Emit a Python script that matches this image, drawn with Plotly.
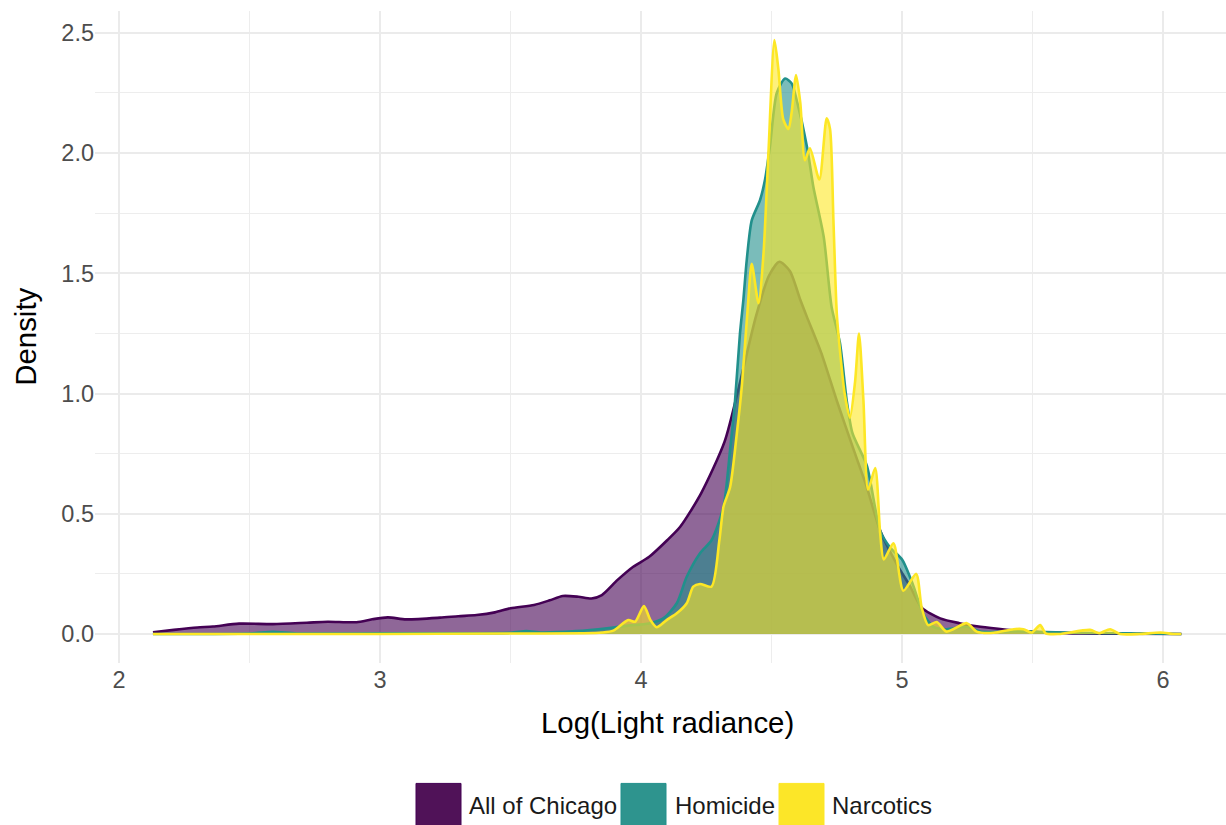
import plotly.graph_objects as go

# ---------------- data ----------------
chicago_x = [2.13, 2.21, 2.30, 2.36, 2.46, 2.59, 2.72, 2.80, 2.91, 2.97, 3.03, 3.10,
             3.23, 3.30, 3.37, 3.44, 3.50, 3.59, 3.65, 3.70, 3.76, 3.81, 3.85, 3.91,
             3.97, 4.03, 4.10, 4.15, 4.23, 4.32, 4.38, 4.44, 4.49, 4.53, 4.57, 4.61,
             4.635, 4.69, 4.75, 4.81, 4.865, 4.916, 4.98, 5.03, 5.075, 5.146, 5.22,
             5.30, 5.40, 5.49, 5.60, 5.68, 5.85, 6.07]
chicago_y = [0.007, 0.017, 0.027, 0.031, 0.043, 0.041, 0.047, 0.051, 0.049, 0.061, 0.069, 0.061,
             0.068, 0.074, 0.079, 0.090, 0.107, 0.121, 0.140, 0.158, 0.155, 0.148, 0.162, 0.225,
             0.280, 0.320, 0.390, 0.446, 0.585, 0.800, 1.050, 1.320, 1.490, 1.548, 1.510, 1.390,
             1.320, 1.170, 0.970, 0.780, 0.610, 0.430, 0.290, 0.200, 0.110, 0.065, 0.045,
             0.030, 0.018, 0.010, 0.005, 0.002, 0.001, 0.0]

homicide_x = [2.13, 2.50, 2.59, 2.68, 3.00, 3.50, 3.56, 3.62, 3.75, 3.87, 3.95, 4.03,
              4.085, 4.137, 4.175, 4.226, 4.27, 4.316, 4.341, 4.36, 4.379, 4.392, 4.405,
              4.424, 4.456, 4.475, 4.494, 4.52, 4.552, 4.577, 4.603, 4.62, 4.64, 4.66,
              4.70, 4.73, 4.762, 4.788, 4.81, 4.865, 4.916, 4.954, 5.00, 5.04, 5.08,
              5.12, 5.17, 5.25, 5.30, 5.45, 5.55, 5.70, 5.85, 6.07]
homicide_y = [0.0, 0.002, 0.009, 0.002, 0.003, 0.005, 0.012, 0.006, 0.012, 0.024, 0.035, 0.044,
              0.065, 0.128, 0.238, 0.336, 0.390, 0.530, 0.765, 0.970, 1.250, 1.390, 1.556,
              1.720, 1.805, 1.890, 2.030, 2.250, 2.310, 2.290, 2.190, 2.110, 2.000, 1.860,
              1.650, 1.360, 1.210, 0.970, 0.835, 0.700, 0.430, 0.360, 0.310, 0.210, 0.086,
              0.030, 0.020, 0.030, 0.010, 0.012, 0.008, 0.004, 0.003, 0.0]

narcotics_x = [2.13, 3.00, 3.50, 3.78, 3.85, 3.894, 3.951, 3.977, 4.011, 4.035, 4.06, 4.098,
               4.137, 4.175, 4.20, 4.226, 4.27, 4.30, 4.316, 4.341, 4.367, 4.386, 4.41,
               4.424, 4.45, 4.469, 4.488, 4.511, 4.526, 4.545, 4.565, 4.577, 4.594, 4.61,
               4.628, 4.647, 4.683, 4.711, 4.724, 4.737, 4.75, 4.762, 4.78, 4.80, 4.82,
               4.835, 4.852, 4.87, 4.897, 4.916, 4.93, 4.967, 5.005, 5.054, 5.075, 5.10,
               5.133, 5.17, 5.248, 5.286, 5.35, 5.427, 5.465, 5.497, 5.529, 5.55, 5.60,
               5.72, 5.755, 5.797, 5.835, 5.91, 5.99, 6.04, 6.07]
narcotics_y = [0.0, 0.0, 0.002, 0.003, 0.006, 0.014, 0.058, 0.051, 0.116, 0.060, 0.028, 0.058,
               0.086, 0.128, 0.197, 0.208, 0.197, 0.390, 0.530, 0.610, 0.835, 1.030, 1.376,
               1.540, 1.376, 1.580, 2.000, 2.470, 2.350, 2.140, 2.100, 2.170, 2.325, 2.210,
               1.970, 2.020, 1.890, 2.145, 2.100, 1.720, 1.330, 1.180, 1.000, 0.900, 1.050,
               1.250, 0.970, 0.600, 0.690, 0.420, 0.310, 0.377, 0.180, 0.250, 0.110, 0.037,
               0.050, 0.010, 0.045, 0.010, 0.005, 0.020, 0.020, 0.006, 0.037, 0.003, 0.0,
               0.017, 0.003, 0.020, 0.0, 0.0, 0.006, 0.0, 0.0]

series_names = ["All of Chicago", "Homicide", "Narcotics"]
x_ticks = [2, 3, 4, 5, 6]
y_ticks = [0.0, 0.5, 1.0, 1.5, 2.0, 2.5]

# ---------------- styling ----------------
line_colors = ["#440154", "#21908C", "#FDE725"]
fill_colors = ["rgba(68,1,84,0.6)", "rgba(33,144,140,0.6)", "rgba(253,231,37,0.6)"]
key_colors = ["rgb(80,18,88)", "rgb(46,148,142)", "rgb(252,230,40)"]
FONT = "Liberation Sans, Arial, Helvetica, sans-serif"

W, H = 1226, 825
ML, MR, MT, MB = 95, 0, 11, 161.5
PW, PH = W - ML - MR, H - MT - MB


def px2paper_x(px):
    return (px - ML) / PW


def px2paper_y(py):
    return (H - MB - py) / PH


fig = go.Figure()
for name, xs, ys, lc, fc in zip(series_names,
                                [chicago_x, homicide_x, narcotics_x],
                                [chicago_y, homicide_y, narcotics_y],
                                line_colors, fill_colors):
    fig.add_trace(go.Scatter(
        x=xs, y=ys, name=name, mode="lines", fill="tozeroy",
        fillcolor=fc, line=dict(color=lc, width=2.6, shape="spline", smoothing=0.7),
        showlegend=False, hoverinfo="x+y+name"))

fig.update_layout(
    width=W, height=H,
    margin=dict(l=ML, r=MR, t=MT, b=MB, pad=0),
    paper_bgcolor="white", plot_bgcolor="white",
    font=dict(family=FONT, color="#4D4D4D"),
    showlegend=False,
    xaxis=dict(range=[1.908, 6.241], tickvals=x_ticks, ticktext=[str(v) for v in x_ticks],
               showgrid=True, gridcolor="#EBEBEB", gridwidth=1.8,
               minor=dict(showgrid=True, gridcolor="#EDEDED", gridwidth=1.1, dtick=0.5, tick0=0),
               zeroline=False, showline=False, ticks="",
               tickfont=dict(size=23.5, color="#4D4D4D", family=FONT)),
    yaxis=dict(range=[-0.1206, 2.591], tickvals=y_ticks,
               ticktext=["%.1f" % v for v in y_ticks],
               showgrid=True, gridcolor="#EBEBEB", gridwidth=1.8,
               minor=dict(showgrid=True, gridcolor="#EDEDED", gridwidth=1.1, dtick=0.25, tick0=0),
               zeroline=False, showline=False, ticks="",
               tickfont=dict(size=23.5, color="#4D4D4D", family=FONT)),
)

annotations = [
    dict(text="Log(Light radiance)", x=px2paper_x(667), y=px2paper_y(723),
         xref="paper", yref="paper", xanchor="center", yanchor="middle",
         showarrow=False, font=dict(size=29.4, color="black", family=FONT)),
    dict(text="Density", x=px2paper_x(26), y=px2paper_y(337), textangle=-90,
         xref="paper", yref="paper", xanchor="center", yanchor="middle",
         showarrow=False, font=dict(size=29.4, color="black", family=FONT)),
]

# legend (drawn manually to reproduce ggplot's large filled keys)
key_left = [416, 621, 779]
text_left = [467, 673, 830]
shapes = []
for name, kc, lc, kx, tx in zip(series_names, key_colors, line_colors, key_left, text_left):
    shapes.append(dict(type="rect", xref="paper", yref="paper",
                       x0=px2paper_x(kx), x1=px2paper_x(kx + 45),
                       y0=px2paper_y(784), y1=px2paper_y(828),
                       fillcolor=kc, line=dict(color=lc, width=1)))
    annotations.append(dict(text=name, x=px2paper_x(tx), y=px2paper_y(806),
                            xref="paper", yref="paper", xanchor="left", yanchor="middle",
                            showarrow=False, font=dict(size=24, color="#1A1A1A", family=FONT)))

fig.update_layout(annotations=annotations, shapes=shapes)
fig.write_html("out.html", config={"displayModeBar": False},
               post_script="document.body.style.margin='0';document.body.style.padding='0';")
